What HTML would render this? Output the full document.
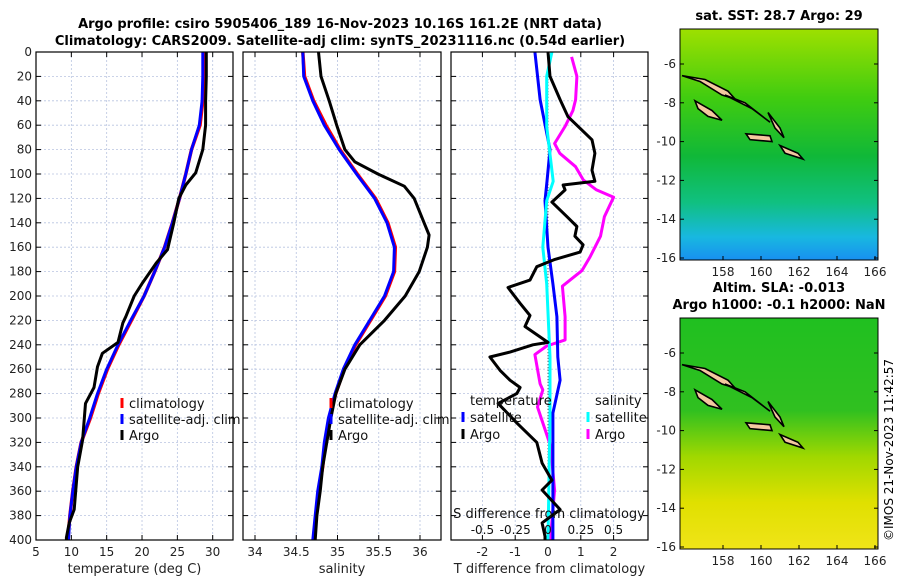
<!DOCTYPE html>
<html><head><meta charset="utf-8"><style>
body{margin:0;background:#fff}
svg{font-family:"DejaVu Sans","Liberation Sans",sans-serif;display:block}
</style></head><body>
<svg id="fig" width="900" height="580" viewBox="0 0 900 580">
<defs>
<linearGradient id="sstg" x1="0" y1="0" x2="0" y2="1">
<stop offset="0" stop-color="#9ee000"/><stop offset="0.3" stop-color="#40cc10"/><stop offset="0.55" stop-color="#10b838"/><stop offset="0.75" stop-color="#10c080"/><stop offset="0.9" stop-color="#18b8e0"/><stop offset="1" stop-color="#1890f0"/>
</linearGradient>
<linearGradient id="slag" x1="0" y1="0" x2="0" y2="1">
<stop offset="0" stop-color="#20c020"/><stop offset="0.4" stop-color="#30c020"/><stop offset="0.6" stop-color="#a0d800"/><stop offset="0.8" stop-color="#e0e000"/><stop offset="1" stop-color="#f0e418"/>
</linearGradient>
</defs>
<text x="340" y="28" text-anchor="middle" font-size="13" font-weight="bold">Argo profile: csiro 5905406_189 16-Nov-2023 10.16S 161.2E (NRT data)</text>
<text x="340" y="45" text-anchor="middle" font-size="13" font-weight="bold">Climatology: CARS2009. Satellite-adj clim: synTS_20231116.nc (0.54d earlier)</text>
<g id="plots"></g>
<g id="maps"></g>
<text transform="translate(893,450) rotate(-90)" text-anchor="middle" font-size="12">©IMOS 21-Nov-2023 11:42:57</text>
</svg>
<script>
const depths=[0,20,40,60,80,100,120,140,160,180,200,220,240,260,280,300,320,340,360,380,400];
const tempClim=[28.7,28.7,28.6,28.2,27.0,26.2,25.3,24.3,23.2,21.8,20.3,18.5,16.7,15.1,13.8,12.7,11.4,10.7,10.2,9.8,9.5];
const tempSat=[28.6,28.6,28.5,28.1,27.0,26.2,25.3,24.3,23.2,21.8,20.3,18.4,16.6,15.0,13.7,12.6,11.4,10.7,10.2,9.8,9.6];
const argoDepths=[0,20,40,60,80,99,109,120,140,162,173,189,200,217,222,238,247,258,275,288,318,340,375,386,398,400];
const tempArgo=[29.1,29.1,29.0,29.0,28.6,27.6,26.2,25.2,24.5,23.6,22.0,20.1,18.9,17.7,17.3,16.6,14.4,13.7,13.2,12.0,11.6,10.9,10.4,9.7,9.3,9.3];
const salClim=[34.58,34.60,34.71,34.86,35.03,35.24,35.46,35.61,35.70,35.69,35.58,35.40,35.22,35.08,34.98,34.90,34.85,34.82,34.77,34.74,34.71];
const salSat=[34.58,34.59,34.70,34.84,35.02,35.23,35.45,35.60,35.69,35.68,35.57,35.39,35.21,35.07,34.97,34.89,34.84,34.81,34.76,34.73,34.70];
const salArgoDepths=[0,20,40,60,80,90,100,110,120,140,150,160,180,200,220,240,260,280,300,320,340,360,380,400];
const salArgo=[34.77,34.80,34.90,34.99,35.09,35.21,35.49,35.81,35.93,36.05,36.11,36.09,35.99,35.82,35.57,35.27,35.09,34.98,34.92,34.87,34.82,34.79,34.75,34.73];
const tArgoDepths=[0,20,39,53,72,83,97,106,109,113,123,135,143,151,158,164,170,176,187,193,206,216,225,238,240,246,250,261,269,275,280,288,304,320,337,351,359,375,386,397,400];
const tDiffArgo=[0,0.06,0.37,0.61,1.34,1.43,1.34,1.43,0.46,0.52,0.12,0.58,0.88,0.82,1.07,0.98,0.21,-0.34,-0.55,-1.22,-0.85,-0.55,-0.70,0,-0.46,-1.16,-1.77,-1.46,-1.16,-0.85,-0.95,-1.52,-0.95,-0.34,-0.18,0.12,-0.18,0.37,-0.18,-0.09,-0.09];
const sArgoDepths=[4,20,39,48,61,75,83,94,105,113,119,135,151,168,179,192,217,236,241,248,272,277,291,323,359,397,400];
const sDiffArgo=[0.18,0.22,0.21,0.19,0.13,0.05,0.09,0.21,0.27,0.37,0.50,0.43,0.40,0.32,0.26,0.11,0.13,0.13,-0.01,-0.10,-0.06,-0.04,-0.08,0.02,0.05,0.02,0.02];
const tSatDepths=[0,39,80,106,122,160,190,217,250,269,296,400];
const tDiffSat=[-0.4,-0.24,0.06,-0.03,-0.09,0,0.15,0.27,0.30,0.37,0.15,0.15];
const sSatDepths=[0,20,61,106,122,160,190,250,300,400];
const sDiffSat=[0.03,-0.01,-0.01,0.04,-0.01,-0.04,-0.01,0.015,0.015,0];
const yTicks=[0,20,40,60,80,100,120,140,160,180,200,220,240,260,280,300,320,340,360,380,400];
const tTicks=[5,10,15,20,25,30];
const sTicks=[34,34.5,35,35.5,36];
const dTicks=[-2,-1,0,1,2];
const sdTicks=[-0.5,-0.25,0,0.25,0.5];

const NS='http://www.w3.org/2000/svg';
const root=document.getElementById('plots');
function mk(tag,attrs,parent){const e=document.createElementNS(NS,tag);for(const k in attrs)e.setAttribute(k,attrs[k]);(parent||root).appendChild(e);return e;}
const Y0=52,Y1=540;
function yS(d){return Y0+(d/400)*(Y1-Y0);}
function linScale(d0,d1,r0,r1){return v=>r0+(v-d0)/(d1-d0)*(r1-r0);}

function panel(name,x0,x1,xs,xt,xlabel,showY){
  const g=mk('g',{});
  
  
  xt.forEach(v=>{const x=xs(v);
    const l=mk('line',{x1:x,x2:x,y1:Y0,y2:Y1,stroke:'#b8c4e0','stroke-width':0.8,'stroke-dasharray':'2,2'},g);
    
    mk('line',{x1:x,x2:x,y1:Y1,y2:Y1-5,stroke:'#000'},g);mk('line',{x1:x,x2:x,y1:Y0,y2:Y0+5,stroke:'#000'},g);
    const t=mk('text',{x:x,y:Y1+16,'text-anchor':'middle','font-size':12,fill:'#222'},g);t.textContent=String(v);
    });
  yTicks.forEach(d=>{const y=yS(d);
    const l=mk('line',{x1:x0,x2:x1,y1:y,y2:y,stroke:'#b8c4e0','stroke-width':0.8,'stroke-dasharray':'2,2'},g);
    
    mk('line',{x1:x0,x2:x0+5,y1:y,y2:y,stroke:'#000'},g);mk('line',{x1:x1,x2:x1-5,y1:y,y2:y,stroke:'#000'},g);
    if(showY){const t=mk('text',{x:x0-4,y:y+4,'text-anchor':'end','font-size':12,fill:'#222'},g);t.textContent=String(d);
      }});
  if(xlabel){const t=mk('text',{x:(x0+x1)/2,y:Y1+33,'text-anchor':'middle','font-size':13,fill:'#222'},g);t.textContent=xlabel;
    }
  return g;
}
function frame(g,x0,x1){const r=mk('rect',{x:x0,y:Y0,width:x1-x0,height:Y1-Y0,fill:'none',stroke:'#000','stroke-width':1.2},g);
  }
function line(g,xs,vals,ds,color,w,name){
  const p=vals.map((v,i)=>xs(v).toFixed(1)+','+yS(ds[i]).toFixed(1)).join(' ');
  const e=mk('polyline',{points:p,fill:'none',stroke:color,'stroke-width':w,'stroke-linejoin':'round'},g);
  }
function leg(g,x,y,color,label,name){
  const m=mk('line',{x1:x,x2:x,y1:y-10,y2:y,stroke:color,'stroke-width':3},g);
  
  const t=mk('text',{x:x+7,y:y,'font-size':13,fill:'#111'},g);t.textContent=label;
  }

// Panel 1 temperature
const tx=linScale(5,30,36,212.7);
const g1=panel('temperature-panel',36,233,tx,tTicks,'temperature (deg C)',true);
line(g1,tx,tempClim,depths,'#f00',3.5,'temp-climatology-line');
line(g1,tx,tempSat,depths,'#00f',3,'temp-satellite-line');
line(g1,tx,tempArgo,argoDepths,'#000',3,'temp-argo-line');
leg(g1,122,408,'#f00','climatology','legend-climatology');
leg(g1,122,424,'#00f','satellite-adj. clim','legend-satellite');
leg(g1,122,440,'#000','Argo','legend-argo');
frame(g1,36,233);

// Panel 2 salinity
const sx=linScale(34,36,255,420);
const g2=panel('salinity-panel',243,441,sx,sTicks,'salinity',false);
line(g2,sx,salClim,depths,'#f00',3.5,'sal-climatology-line');
line(g2,sx,salSat,depths,'#00f',3,'sal-satellite-line');
line(g2,sx,salArgo,salArgoDepths,'#000',3,'sal-argo-line');
leg(g2,331,408,'#f00','climatology','legend-climatology-sal');
leg(g2,331,424,'#00f','satellite-adj. clim','legend-satellite-sal');
leg(g2,331,440,'#000','Argo','legend-argo-sal');
frame(g2,243,441);

// Panel 3 differences
const dx=linScale(0,1,548,580.8);
const sdx=linScale(0,0.5,548,613.6);
const g3=panel('difference-panel',451,648,dx,dTicks,'T difference from climatology',false);
const zl=mk('line',{x1:548,x2:548,y1:Y0,y2:Y1,stroke:'#666','stroke-dasharray':'1,2'},g3);

line(g3,sdx,sDiffArgo,sArgoDepths,'#f0f',3,'sal-diff-argo-line');
line(g3,dx,tDiffSat,tSatDepths,'#00f',3,'temp-diff-satellite-line');
line(g3,sdx,sDiffSat,sSatDepths,'#0ff',3,'sal-diff-satellite-line');
line(g3,dx,tDiffArgo,tArgoDepths,'#000',3,'temp-diff-argo-line');
{const t=mk('text',{x:470,y:405,'font-size':13,fill:'#111'},g3);t.textContent='temperature';}
{const t=mk('text',{x:595,y:405,'font-size':13,fill:'#111'},g3);t.textContent='salinity';}
leg(g3,463,422,'#00f','satellite','legend-temp-satellite');
leg(g3,463,439,'#000','Argo','legend-temp-argo');
leg(g3,588,422,'#0ff','satellite','legend-sal-satellite');
leg(g3,588,439,'#f0f','Argo','legend-sal-argo');
{const t=mk('text',{x:549,y:518,'text-anchor':'middle','font-size':13,fill:'#111'},g3);t.textContent='S difference from climatology';}
sdTicks.forEach(v=>{const t=mk('text',{x:sdx(v),y:534,'text-anchor':'middle','font-size':12,fill:'#111'},g3);t.textContent=String(v);
  });
frame(g3,451,648);

// Maps
const mg=document.getElementById('maps');
const lonTicks=[158,160,162,164,166];
const latTicks=[-6,-8,-10,-12,-14,-16];
function map(name,y0,y1,fill,title1,title2,title2y){
  const g=mk('g',{},mg);
  
  const lx=linScale(158,166,723,875);
  const ly=linScale(-6,-16,y0+35,y1-2);
  const r=mk('rect',{x:680,y:y0,width:198,height:y1-y0,fill:fill},g);
  
  const shapes=[
    'M682,'+ly(-6.6)+' L700,'+ly(-6.9)+' L722,'+ly(-7.6)+' L735,'+ly(-7.8)+' L728,'+ly(-7.4)+' L705,'+ly(-6.8)+' Z',
    'M725,'+ly(-7.6)+' L752,'+ly(-8.3)+' L770,'+ly(-9.0)+' L765,'+ly(-8.8)+' L745,'+ly(-8.0)+' Z',
    'M695,'+ly(-7.9)+' L712,'+ly(-8.4)+' L722,'+ly(-8.9)+' L708,'+ly(-8.7)+' L698,'+ly(-8.3)+' Z',
    'M746,'+ly(-9.6)+' L770,'+ly(-9.7)+' L772,'+ly(-10.0)+' L750,'+ly(-9.9)+' Z',
    'M768,'+ly(-8.5)+' L780,'+ly(-9.3)+' L784,'+ly(-9.8)+' L775,'+ly(-9.3)+' Z',
    'M780,'+ly(-10.2)+' L798,'+ly(-10.6)+' L803,'+ly(-10.9)+' L785,'+ly(-10.6)+' Z'];
  shapes.forEach(s=>{const p=mk('path',{d:s,fill:'#f4c8a0',stroke:'#000','stroke-width':1.6},g);
    });
  const b=mk('rect',{x:680,y:y0,width:198,height:y1-y0,fill:'none',stroke:'#000'},g);
  
  lonTicks.forEach(v=>{const x=lx(v);mk('line',{x1:x,x2:x,y1:y1,y2:y1-4,stroke:'#000'},g);
    const t=mk('text',{x:x,y:y1+16,'text-anchor':'middle','font-size':12,fill:'#222'},g);t.textContent=String(v);
    });
  latTicks.forEach(v=>{const y=ly(v);mk('line',{x1:680,x2:684,y1:y,y2:y,stroke:'#000'},g);mk('line',{x1:878,x2:874,y1:y,y2:y,stroke:'#000'},g);
    const t=mk('text',{x:676,y:y+4,'text-anchor':'end','font-size':12,fill:'#222'},g);t.textContent=String(v);
    });
  const t1=mk('text',{x:779,y:title2?title2y-17:y0-9,'text-anchor':'middle','font-size':13,'font-weight':'bold'},g);t1.textContent=title1;
  
  if(title2){const t2=mk('text',{x:779,y:title2y,'text-anchor':'middle','font-size':13,'font-weight':'bold'},g);t2.textContent=title2;
    }
}
map('sst-map',29,260,'url(#sstg)','sat. SST: 28.7 Argo: 29',null,0);
map('sla-map',318,549,'url(#slag)','Altim. SLA: -0.013','Argo h1000: -0.1 h2000: NaN',309);
</script>
</body></html>
